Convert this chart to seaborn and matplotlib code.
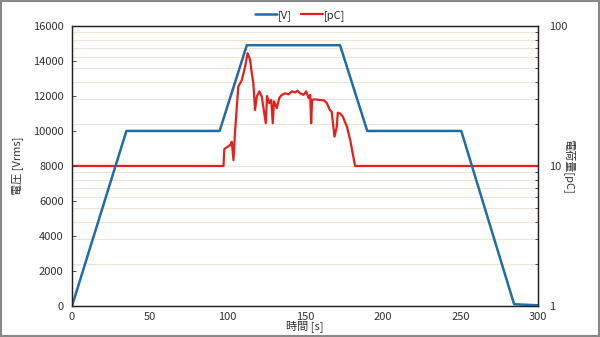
import matplotlib
matplotlib.use("Agg")

import numpy as np
import pandas as pd
import matplotlib.pyplot as plt
import seaborn as sns
from matplotlib.patches import Rectangle
from matplotlib.ticker import MultipleLocator, LogLocator, NullFormatter, FixedLocator

# applied voltage profile [Vrms] vs time [s]
volt_time = [0, 35, 95, 112.5, 172.5, 190, 250.5, 284.5, 300]
volt_vrms = [0, 10000, 10000, 14900, 14900, 10000, 10000, 100, 40]

# partial discharge charge [pC] vs time [s]
pd_time = [0, 97.5, 98, 101.7, 102.8, 103.9, 105, 107, 109.3, 111.4, 113,
           114.6, 115.7, 116.7, 117.8, 118.9, 120.6, 122.1, 124.7, 125.5,
           126.9, 128.2, 129.2, 130, 131.8, 133.5, 135, 137.2, 139.4, 141.5,
           143.7, 145.1, 146.8, 149, 150.7, 152.2, 153.3, 153.9, 154.5,
           156.4, 159.6, 162.2, 164, 166, 167.1, 168.9, 170.4, 171, 172.5,
           174.2, 176.9, 179, 180.8, 182.2, 300]
pd_charge = [10, 10, 13.2, 14.1, 14.9, 11.0, 18.1, 36.8, 41.1, 51.4, 64,
             57.3, 45.9, 38.9, 25.1, 31.3, 34.1, 31.3, 20.2, 31.6,
             28.1, 29.6, 20.2, 29.0, 25.9, 30.8, 32.2, 33.0, 32.5, 34.1,
             33.5, 34.5, 33.0, 32.2, 34.1, 30.6, 32.2, 20.2, 29.7,
             29.9, 29.6, 29.4, 28.1, 25.1, 24.4, 16.2, 19.1, 24.0, 23.7,
             22.6, 19.1, 15.4, 12.0, 10, 10]

BLUE = "#1f6ca6"
RED = "#e3211c"
GRID = "#f0e4d6"
TXT = "#333333"

sns.set_theme(style="white")
plt.rcParams["font.family"] = ["Noto Sans CJK JP", "DejaVu Sans"]
plt.rcParams["font.size"] = 8

volt_df = pd.DataFrame({"t": volt_time, "v": volt_vrms})
pd_df = pd.DataFrame({"t": pd_time, "q": pd_charge})

fig = plt.figure(figsize=(6, 3.37), dpi=100)
ax = fig.add_axes([0.12, 0.092, 0.777, 0.831])
ax2 = ax.twinx()

# log grid of the charge axis sits behind everything
ax2.set_zorder(0)
ax.set_zorder(1)
ax.patch.set_visible(False)

sns.lineplot(data=pd_df, x="t", y="q", ax=ax2, color=RED, linewidth=1.6,
             label="[pC]", legend=False)
sns.lineplot(data=volt_df, x="t", y="v", ax=ax, color=BLUE, linewidth=1.8,
             label="[V]", legend=False)

ax.set_xlim(0, 300)
ax.set_ylim(0, 16000)
ax.xaxis.set_major_locator(MultipleLocator(50))
ax.xaxis.set_minor_locator(MultipleLocator(10))
ax.yaxis.set_major_locator(MultipleLocator(2000))
ax.set_xlabel("時間 [s]", labelpad=-1, color=TXT, fontsize=8)
ax.set_ylabel("電圧 [Vrms]", labelpad=7, color=TXT, fontsize=8)

ax2.set_yscale("log")
ax2.set_ylim(1, 100)
ax2.yaxis.set_major_locator(FixedLocator([1, 10, 100]))
ax2.yaxis.set_major_formatter(plt.FuncFormatter(lambda v, p: f"{v:g}"))
ax2.yaxis.set_minor_locator(LogLocator(base=10, subs=np.arange(2, 10)))
ax2.yaxis.set_minor_formatter(NullFormatter())
ax2.set_ylabel("電荷量[pC]", rotation=270, labelpad=5, color=TXT, fontsize=8)
ax2.grid(True, which="both", axis="y", color=GRID, linewidth=0.8)

for a in (ax, ax2):
    a.tick_params(which="both", direction="in", colors=TXT,
                  labelsize=8, length=3, width=0.6)
    a.tick_params(which="minor", length=2)
    for s in a.spines.values():
        s.set_color("#222222")
        s.set_linewidth(0.9)
ax.tick_params(axis="x", pad=4)
ax.tick_params(axis="y", pad=6)
ax2.tick_params(axis="y", pad=8)

h1, l1 = ax.get_legend_handles_labels()
h2, l2 = ax2.get_legend_handles_labels()
fig.legend(h1 + h2, l1 + l2, loc="upper center", bbox_to_anchor=(0.5, 1.0),
           ncol=2, frameon=False, fontsize=8, handlelength=2.0,
           handletextpad=0.1, columnspacing=0.8)

fig.patches.append(Rectangle((0.002, 0.003), 0.996, 0.994,
                             transform=fig.transFigure, fill=False,
                             edgecolor="#888888", linewidth=1.5))

fig.savefig("out.png", dpi=100)
